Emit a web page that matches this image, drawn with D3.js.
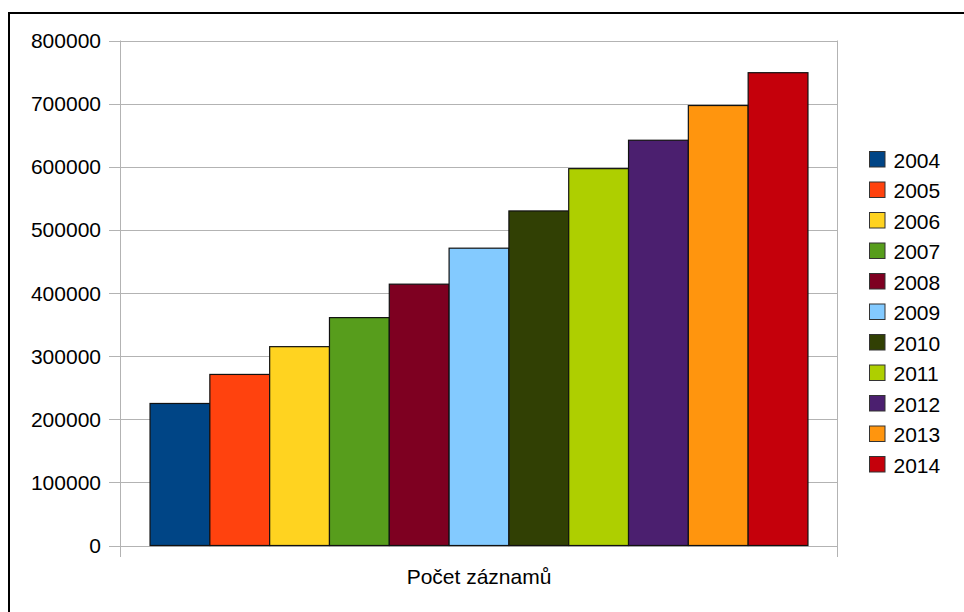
<!DOCTYPE html>
<html>
<head>
<meta charset="utf-8">
<script src="https://cdn.jsdelivr.net/npm/d3@7/dist/d3.min.js"></script>
<style>
  html, body { margin: 0; padding: 0; background: #fff; }
  svg { display: block; font-family: "Liberation Sans", Arial, sans-serif; }
</style>
</head>
<body>
<svg id="chart" width="964" height="612"></svg>
<script>
const categories = ["Počet záznamů"];
const years = ["2004","2005","2006","2007","2008","2009","2010","2011","2012","2013","2014"];
const values = [225000, 271000, 315000, 361000, 414000, 471000, 530000, 597000, 642000, 697000, 749000];
const colors = ["#004586","#ff420e","#ffd320","#579d1c","#7e0021","#83caff","#314004","#aecf00","#4b1f6f","#ff950e","#c5000b"];
const yTicks = [0, 100000, 200000, 300000, 400000, 500000, 600000, 700000, 800000];

const svg = d3.select("#chart");
const W = 964, H = 612;
const plot = { left: 120.5, right: 837.5, top: 40.5, bottom: 545.5 };

svg.append("rect").attr("x", 0).attr("y", 0).attr("width", W).attr("height", H).attr("fill", "#fff");
// outer frame
svg.append("rect").attr("x", 9).attr("y", 13).attr("width", W + 20).attr("height", H + 20)
  .attr("fill", "none").attr("stroke", "#000").attr("stroke-width", 2);

const y = d3.scaleLinear().domain([0, 800000]).range([plot.bottom, plot.top]);
const x0 = d3.scaleBand().domain(categories).range([plot.left, plot.right]).paddingInner(0).paddingOuter(0.0449);
const x1 = d3.scaleBand().domain(years).range([0, x0.bandwidth()]).padding(0);

const grid = "#b3b3b3";
// gridlines
svg.append("g").selectAll("line").data(yTicks).join("line")
  .attr("x1", plot.left - 11.5).attr("x2", plot.right)
  .attr("y1", d => Math.round(y(d)) + 0.5).attr("y2", d => Math.round(y(d)) + 0.5)
  .attr("stroke", grid).attr("stroke-width", 1);
// plot right border
svg.append("line").attr("x1", plot.right).attr("x2", plot.right)
  .attr("y1", plot.top).attr("y2", plot.bottom + 11.5).attr("stroke", grid);
// y axis line
svg.append("line").attr("x1", plot.left).attr("x2", plot.left)
  .attr("y1", plot.top).attr("y2", plot.bottom + 11.5).attr("stroke", grid);

// y tick labels
svg.append("g").selectAll("text").data(yTicks).join("text")
  .attr("x", 101).attr("y", d => y(d)).attr("dy", "0.36em")
  .attr("text-anchor", "end").attr("font-size", 21).attr("fill", "#000")
  .text(d => d3.format("d")(d));

// bars
const g = svg.append("g").attr("transform", `translate(${x0(categories[0])},0)`);
g.selectAll("rect").data(values).join("rect")
  .attr("x", (d, i) => x1(years[i]))
  .attr("y", d => y(d))
  .attr("width", x1.bandwidth())
  .attr("height", d => y(0) - y(d))
  .attr("fill", (d, i) => colors[i])
  .attr("stroke", "#111").attr("stroke-width", 1.2);

// category label
svg.append("text").attr("x", x0(categories[0]) + x0.bandwidth() / 2).attr("y", 584)
  .attr("text-anchor", "middle").attr("font-size", 21).attr("fill", "#000").text(categories[0]);

// legend
const lg = svg.append("g");
const items = lg.selectAll("g").data(years).join("g")
  .attr("transform", (d, i) => `translate(869.5, ${151.5 + i * 30.5})`);
items.append("rect").attr("width", 15.5).attr("height", 15.5)
  .attr("fill", (d, i) => colors[i]).attr("stroke", "#333").attr("stroke-width", 1);
items.append("text").attr("x", 24).attr("y", 16).attr("font-size", 21).attr("fill", "#000").text(d => d);
</script>
</body>
</html>
